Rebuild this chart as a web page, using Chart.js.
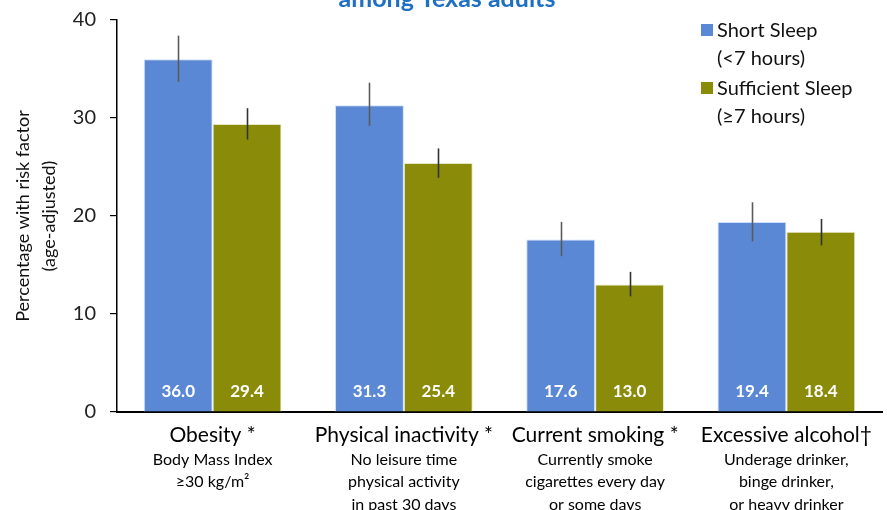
<!DOCTYPE html>
<html>
<head>
<meta charset="utf-8">
<script src="https://cdn.jsdelivr.net/npm/chart.js@4"></script>
<style>
html,body{margin:0;padding:0;background:#fff;}
#wrap{width:887px;height:510px;position:relative;}
</style>
</head>
<body>
<div id="wrap"><canvas id="c" width="887" height="510"></canvas></div>
<script>
const titleText = 'among Texas adults';
const categories = ['Obesity *', 'Physical inactivity *', 'Current smoking *', 'Excessive alcohol\u2020'];
const descriptions = [
  ['Body Mass Index', '\u226530 kg/m\u00b2'],
  ['No leisure time', 'physical activity', 'in past 30 days'],
  ['Currently smoke', 'cigarettes every day', 'or some days'],
  ['Underage drinker,', 'binge drinker,', 'or heavy drinker']
];
const seriesNames = ['Short Sleep', 'Sufficient Sleep'];
const seriesSub = ['(<7 hours)', '(\u22657 hours)'];
const shortSleep = [36.0, 31.3, 17.6, 19.4];
const sufficientSleep = [29.4, 25.4, 13.0, 18.4];
const shortLow = [33.7, 29.2, 15.9, 17.4];
const shortHigh = [38.4, 33.6, 19.4, 21.4];
const suffLow = [27.8, 23.9, 11.8, 17.0];
const suffHigh = [31.0, 26.9, 14.3, 19.7];
const yTicks = [0, 10, 20, 30, 40];

const FONT = 'Lato, "Open Sans", sans-serif';
const BLUE = '#5B88D4';
const OLIVE = '#8A8C09';

const overlay = {
  id: 'overlay',
  afterDatasetsDraw(chart) {
    const ctx = chart.ctx;
    const y = chart.scales.y;
    ctx.save();
    ctx.font = 'bold 17px ' + FONT;
    ctx.fillStyle = '#fff';
    ctx.textAlign = 'center';
    ctx.textBaseline = 'middle';
    chart.data.datasets.forEach((ds, di) => {
      const meta = chart.getDatasetMeta(di);
      meta.data.forEach((bar, i) => {
        ctx.fillText(ds.data[i].toFixed(1), bar.x, chart.chartArea.bottom - 20);
      });
    });
    const lows = [shortLow, suffLow], highs = [shortHigh, suffHigh];
    const cols = ['#5a5a5a', '#333333'];
    chart.data.datasets.forEach((ds, di) => {
      const meta = chart.getDatasetMeta(di);
      ctx.strokeStyle = cols[di];
      ctx.lineWidth = 1.6;
      meta.data.forEach((bar, i) => {
        const bx = Math.round(bar.x) + 0.5;
        ctx.beginPath();
        ctx.moveTo(bx, y.getPixelForValue(highs[di][i]));
        ctx.lineTo(bx, y.getPixelForValue(lows[di][i]));
        ctx.stroke();
      });
    });
    ctx.restore();
  },
  afterDraw(chart) {
    const ctx = chart.ctx;
    const x = chart.scales.x;
    const bottom = chart.chartArea.bottom;
    ctx.save();
    ctx.font = '16px ' + FONT;
    ctx.fillStyle = '#000';
    ctx.textAlign = 'center';
    ctx.textBaseline = 'middle';
    descriptions.forEach((lines, i) => {
      const cx = x.getPixelForValue(i);
      lines.forEach((t, j) => ctx.fillText(t, cx, bottom + 48 + j * 22.3));
    });
    ctx.font = 'bold 25px ' + FONT;
    ctx.fillStyle = '#1F6FC2';
    ctx.textBaseline = 'alphabetic';
    ctx.fillText(titleText, 447, 7);
    const colors = [BLUE, OLIVE];
    const ys = [30, 88];
    ctx.textAlign = 'left';
    ctx.textBaseline = 'middle';
    ctx.font = '20px ' + FONT;
    seriesNames.forEach((n, k) => {
      ctx.fillStyle = colors[k];
      ctx.fillRect(701, ys[k] - 6, 12, 12);
      ctx.fillStyle = '#111';
      ctx.fillText(n, 717, ys[k] + 1);
      ctx.fillText(seriesSub[k], 717, ys[k] + 29);
    });
    ctx.restore();
  }
};

new Chart(document.getElementById('c'), {
  type: 'bar',
  data: {
    labels: categories,
    datasets: [
      { label: seriesNames[0], data: shortSleep, backgroundColor: BLUE, borderColor: 'rgba(200,220,255,0.9)', borderWidth: {top:1,left:1,right:1,bottom:0}, categoryPercentage: 0.72, barPercentage: 1.0 },
      { label: seriesNames[1], data: sufficientSleep, backgroundColor: OLIVE, borderColor: 'rgba(230,230,190,0.9)', borderWidth: {top:1,left:1,right:1,bottom:0}, categoryPercentage: 0.72, barPercentage: 1.0 }
    ]
  },
  options: {
    responsive: false,
    animation: false,
    layout: { padding: { left: 0, right: 5, top: 20, bottom: 0 } },
    plugins: { legend: { display: false }, tooltip: { enabled: false }, title: { display: false } },
    scales: {
      x: {
        grid: { display: false, drawTicks: false },
        border: { color: '#000', width: 2 },
        ticks: { color: '#000', font: { family: FONT, size: 21 }, padding: 11, maxRotation: 0, autoSkip: false },
        afterFit(s) { s.height = 98; s.paddingLeft = 0; s.paddingRight = 0; }
      },
      y: {
        min: 0, max: 40,
        afterBuildTicks(s) { s.ticks = yTicks.map(v => ({ value: v })); },
        grid: { drawOnChartArea: false, drawTicks: true, tickLength: 7, color: '#000', lineWidth: 1.2 },
        border: { color: '#000', width: 1.5 },
        ticks: { color: '#222', font: { family: FONT, size: 20 }, padding: 14 },
        title: { display: true, text: ['Percentage with risk factor', '(age-adjusted)'], color: '#111', font: { family: FONT, size: 18, lineHeight: 1.4 }, padding: { top: 11, bottom: 0 } },
        afterFit(s) { s.width = 117; s.paddingTop = 0; s.paddingBottom = 0; }
      }
    }
  },
  plugins: [overlay]
});
</script>
</body>
</html>
